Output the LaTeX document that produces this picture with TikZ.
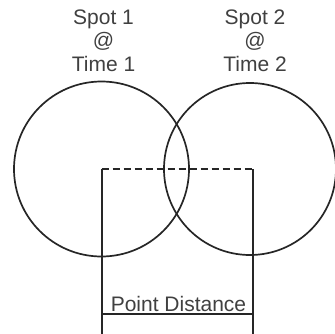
\documentclass[tikz,border=0pt]{standalone}
\usepackage{fontspec}
\setmainfont{Liberation Sans}
\begin{document}
\begin{tikzpicture}[x=1pt,y=-1pt,
  ring/.style={draw=black!85,line width=1.7pt},
  rule/.style={draw=black!85,line width=1.8pt},
  dashrule/.style={draw=black!85,line width=2pt,dash pattern=on 7pt off 4pt},
  lbl/.style={font=\fontsize{21}{23.5}\selectfont,text=black!75,inner sep=0pt,align=center}]
\useasboundingbox (0,0) rectangle (334,334);
\node[ring,circle,minimum size=175pt,inner sep=0pt] (c1) at (101.5,169) {};
\node[ring,circle,minimum size=172pt,inner sep=0pt] (c2) at (250,169) {};
\coordinate (a) at (101.7,169);
\coordinate (b) at (252.7,169);
\coordinate (a0) at (101.7,334);
\coordinate (b0) at (252.7,334);
\coordinate (ah) at (101.7,314);
\coordinate (bh) at (252.7,314);
\draw[dashrule] (a) -- (b);
\draw[rule] (a) -- (a0);
\draw[rule] (b) -- (b0);
\draw[rule] (ah) -- (bh);
\node[lbl,anchor=north] (t1) at (103.5,9.5) {Spot 1\\@\\Time 1};
\node[lbl,anchor=north] (t2) at (255,9.5) {Spot 2\\@\\Time 2};
\node[lbl,anchor=base] (pd) at (178.5,311.5) {Point Distance};
\end{tikzpicture}
\end{document}
